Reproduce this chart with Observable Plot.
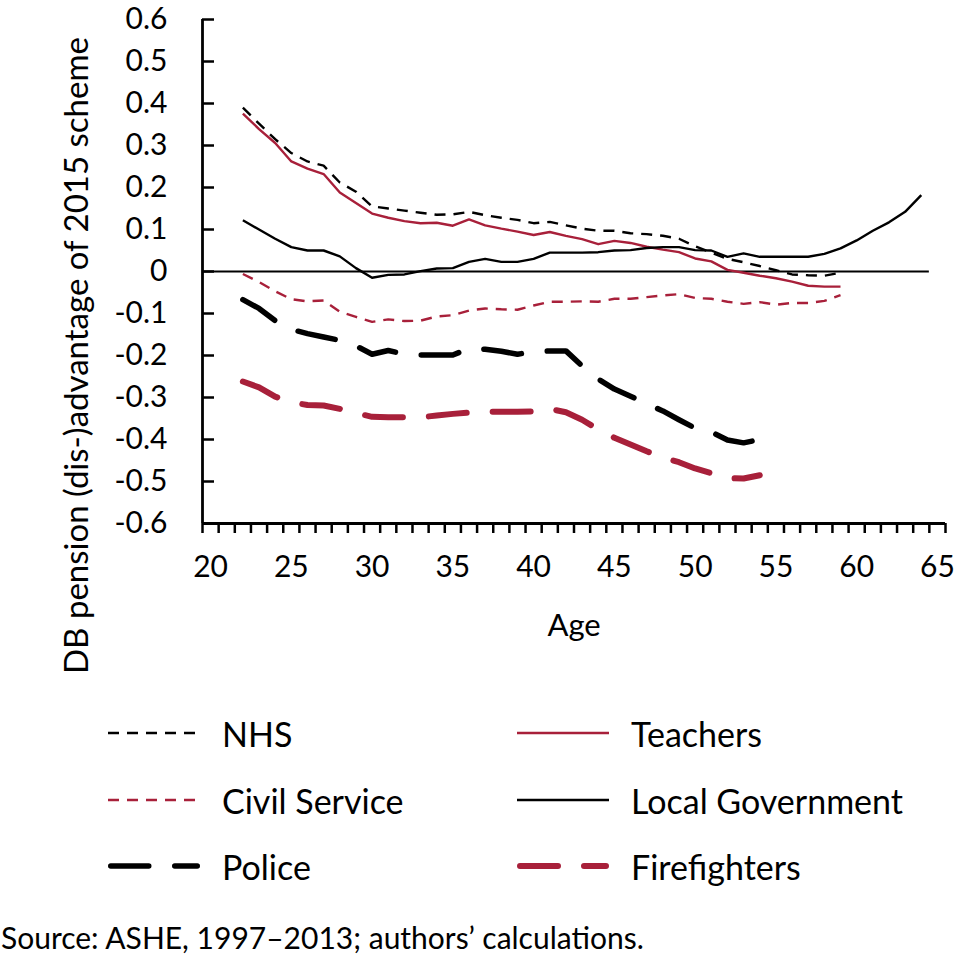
<!DOCTYPE html>
<html><head><meta charset="utf-8">
<script src="https://cdn.jsdelivr.net/npm/d3@7"></script>
<script src="https://cdn.jsdelivr.net/npm/@observablehq/plot@0.6"></script>
<style>
body{margin:0;background:#fff;}
#chart{position:relative;width:954px;height:961px;font-family:Lato,"Open Sans",sans-serif;color:#000;overflow:hidden;}
#chart svg.plot{position:absolute;left:0;top:0;}
.leg{position:absolute;display:flex;align-items:center;height:40px;font-size:34px;white-space:nowrap;}
.leg svg{margin-right:22px;}
#source{position:absolute;left:1px;top:919px;font-size:30px;white-space:nowrap;}
</style></head><body><div id="chart"></div>
<script>
// ---- data ----
const startAge = 22;
const nhs = [0.390,0.352,0.315,0.282,0.262,0.252,0.212,0.190,0.155,0.150,0.145,0.140,0.135,0.136,0.142,0.134,0.128,0.123,0.115,0.118,0.110,0.102,0.097,0.097,0.091,0.089,0.085,0.078,0.060,0.045,0.030,0.022,0.013,0.003,-0.007,-0.009,-0.010,-0.003];
const teachers = [0.376,0.339,0.306,0.262,0.245,0.232,0.188,0.163,0.138,0.128,0.120,0.115,0.116,0.109,0.124,0.110,0.102,0.095,0.087,0.094,0.085,0.077,0.065,0.073,0.068,0.059,0.052,0.046,0.031,0.024,0.004,-0.003,-0.010,-0.016,-0.024,-0.034,-0.036,-0.036];
const civilService = [-0.006,-0.025,-0.047,-0.066,-0.071,-0.069,-0.096,-0.108,-0.120,-0.114,-0.118,-0.117,-0.107,-0.104,-0.093,-0.088,-0.090,-0.091,-0.081,-0.072,-0.072,-0.071,-0.072,-0.065,-0.065,-0.061,-0.057,-0.054,-0.063,-0.065,-0.072,-0.077,-0.073,-0.079,-0.075,-0.075,-0.070,-0.056];
const localGov = [0.122,0.100,0.078,0.058,0.050,0.050,0.036,0.008,-0.015,-0.008,-0.007,0.001,0.007,0.008,0.023,0.030,0.023,0.023,0.030,0.045,0.045,0.045,0.046,0.050,0.051,0.056,0.058,0.058,0.051,0.050,0.035,0.043,0.035,0.035,0.035,0.035,0.042,0.055,0.074,0.097,0.117,0.142,0.182];
const police = [-0.067,-0.088,-0.117,-0.138,-0.148,-0.156,-0.164,-0.177,-0.197,-0.188,-0.197,-0.199,-0.199,-0.199,-0.183,-0.185,-0.190,-0.197,-0.191,-0.189,-0.189,-0.225,-0.256,-0.280,-0.297,-0.315,-0.332,-0.353,-0.373,-0.382,-0.401,-0.408,-0.400];
const firefighters = [-0.262,-0.276,-0.298,-0.311,-0.318,-0.319,-0.327,-0.337,-0.346,-0.347,-0.347,-0.347,-0.343,-0.339,-0.336,-0.334,-0.334,-0.334,-0.333,-0.327,-0.335,-0.353,-0.376,-0.396,-0.412,-0.428,-0.443,-0.454,-0.469,-0.480,-0.492,-0.493,-0.485];

const xLabels = [20,25,30,35,40,45,50,55,60,65];
const yTicks = [-0.6,-0.5,-0.4,-0.3,-0.2,-0.1,0,0.1,0.2,0.3,0.4,0.5,0.6];
const categories = d3.range(20, 66); // Excel category axis: ages 20..65
const yTitle = "DB pension (dis-)advantage of 2015 scheme";
const xTitle = "Age";
const sourceText = "Source: ASHE, 1997–2013; authors’ calculations.";

// ---- styles ----
const RED = "#a8203a";
const seriesDefs = [
  {name: "NHS", values: nhs, stroke: "#000", width: 2.4, dash: "11,8", cap: "butt"},
  {name: "Teachers", values: teachers, stroke: RED, width: 2.4, dash: null, cap: "butt"},
  {name: "Civil Service", values: civilService, stroke: RED, width: 2.4, dash: "11,8", cap: "butt"},
  {name: "Local Government", values: localGov, stroke: "#000", width: 2.4, dash: null, cap: "butt"},
  {name: "Police", values: police, stroke: "#000", width: 5.5, dash: "38,26", cap: "round"},
  {name: "Firefighters", values: firefighters, stroke: RED, width: 6, dash: "38,26", cap: "round"}
];

const rows = s => s.values.map((v, i) => ({age: startAge + i, value: v, series: s.name}));

const xMin = categories[0] - 0.5, xMax = categories[categories.length - 1] + 0.5;
const tickPositions = d3.range(categories.length + 1).map(i => xMin + i);

const lineMarks = seriesDefs.map(s => Plot.line(rows(s), {
  x: "age", y: "value", stroke: s.stroke, strokeWidth: s.width,
  strokeDasharray: s.dash || undefined, strokeLinecap: s.cap, strokeLinejoin: "round"
}));

const plot = Plot.plot({
  width: 954, height: 700,
  marginTop: 19, marginBottom: 177, marginLeft: 202, marginRight: 9,
  style: {fontFamily: "Lato, 'Open Sans', sans-serif", fontSize: "30px", color: "#000", background: "transparent"},
  x: {domain: [xMin, xMax]},
  y: {domain: [yTicks[0], yTicks[yTicks.length - 1]]},
  marks: [
    Plot.ruleY([0], {x1: xMin, x2: d3.max(rows(seriesDefs[3]), d => d.age) + 0.5, stroke: "#000", strokeWidth: 2}),
    ...lineMarks,
    Plot.axisY(yTicks, {tickSize: 0, tickPadding: 35, tickFormat: d => d === 0 ? "0" : d.toFixed(1), label: null, fontSize: 30}),
    Plot.axisY(yTicks, {tickSize: 12, dx: 12, tickFormat: () => "", label: null, strokeWidth: 2.5}),
    Plot.axisX(tickPositions, {tickSize: 10, tickFormat: () => "", label: null, strokeWidth: 2.5}),
    Plot.axisX(xLabels, {tickSize: 0, tickPadding: 32, label: null, fontSize: 30}),
    Plot.ruleX([xMin], {stroke: "#000", strokeWidth: 2.8}),
    Plot.ruleY([yTicks[0]], {stroke: "#000", strokeWidth: 2.8}),
    Plot.text([yTitle], {frameAnchor: "left", textAnchor: "middle", lineAnchor: "middle", rotate: -90, dx: -125, dy: 84, fontSize: 33}),
    Plot.text([xTitle], {frameAnchor: "bottom", textAnchor: "middle", dy: 112, fontSize: 31})
  ]
});
plot.classList.add("plot");
const chart = document.getElementById("chart");
chart.appendChild(plot);

// ---- legend (HTML) ----
const legendOrder = ["NHS", "Teachers", "Civil Service", "Local Government", "Police", "Firefighters"];
const colX = [108, 517], rowY = [733, 800, 866];
legendOrder.forEach((name, i) => {
  const s = seriesDefs.find(d => d.name === name);
  const div = document.createElement("div");
  div.className = "leg";
  div.style.left = colX[i % 2] + "px";
  div.style.top = (rowY[Math.floor(i / 2)] - 20) + "px";
  const w = 92, h = 14;
  const svg = d3.create("svg").attr("width", w).attr("height", h);
  const pad = s.cap === "round" ? s.width / 2 : 0;
  svg.append("line").attr("x1", pad).attr("x2", w - pad).attr("y1", h / 2).attr("y2", h / 2)
    .attr("stroke", s.stroke).attr("stroke-width", s.width)
    .attr("stroke-dasharray", s.dash).attr("stroke-linecap", s.cap);
  div.appendChild(svg.node());
  const span = document.createElement("span");
  span.textContent = name;
  div.appendChild(span);
  chart.appendChild(div);
});
const src = document.createElement("div");
src.id = "source";
src.textContent = sourceText;
chart.appendChild(src);
</script></body></html>
